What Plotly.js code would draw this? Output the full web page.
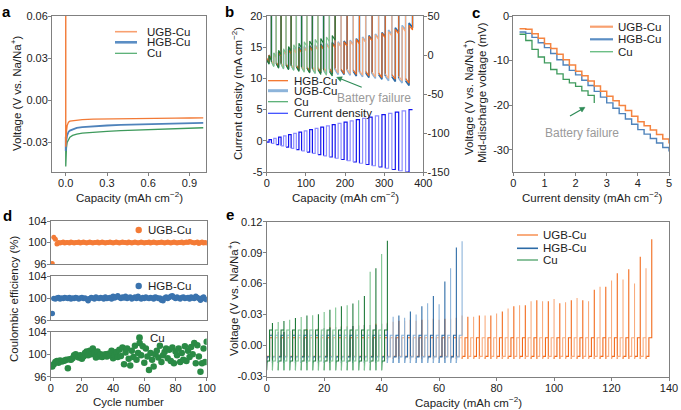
<!DOCTYPE html>
<html><head><meta charset="utf-8">
<script src="https://cdn.plot.ly/plotly-3.0.1.min.js"></script>
<style>html,body{margin:0;padding:0;background:#fff;}#chart{width:681px;height:410px;}</style>
</head><body><div id="chart"></div>
<script>
// ================= DATA =================
// Panel a: first plating curve
const aCapacity = [0, 0, 0.005, 0.01, 0.02, 0.03, 0.05, 0.08, 0.12, 0.2, 0.3, 0.4, 0.5, 0.6, 0.7, 0.8, 0.9, 1.0];
const aUgbVoltage = [0.07, -0.033, -0.022, -0.018, -0.0155, -0.0148, -0.0145, -0.0140, -0.0137, -0.0134, -0.0132, -0.0131, -0.0130, -0.0129, -0.0128, -0.0127, -0.0126, -0.0125];
const aHgbVoltage = [-0.026, -0.036, -0.028, -0.025, -0.0225, -0.0215, -0.0205, -0.0196, -0.0190, -0.0184, -0.0179, -0.0175, -0.0172, -0.0169, -0.0166, -0.0164, -0.0162, -0.0160];
const aCuVoltage = [-0.032, -0.047, -0.034, -0.030, -0.0275, -0.0262, -0.0250, -0.0240, -0.0233, -0.0226, -0.0221, -0.0216, -0.0212, -0.0208, -0.0204, -0.0201, -0.0198, -0.0195];
const aXTicks = [0, 0.3, 0.6, 0.9];
const aXTickText = ['0.0', '0.3', '0.6', '0.9'];
const aYTicks = [-0.03, 0, 0.03, 0.06];
const aYTickText = ['-0.03', '0.00', '0.03', '0.06'];

// Panel b: rate test (cycle boundaries in mAh cm-2, current per cycle, voltage envelopes in mV)
const bCycleEdges = [0, 12.0, 24.2, 36.7, 49.4, 62.4, 75.6, 89.1, 102.8, 116.7, 130.9, 145.3, 160.0, 174.9, 190.0, 205.4, 221.0, 236.9, 253.0, 269.3, 285.9, 302.8, 319.8, 337.2, 354.7, 372.5];
const bCurrent = [0.2, 0.4, 0.6, 0.8, 1.0, 1.2, 1.4, 1.6, 1.8, 2.0, 2.2, 2.4, 2.6, 2.8, 3.0, 3.2, 3.4, 3.6, 3.8, 4.0, 4.2, 4.4, 4.6, 4.8, 5.0];
const bOrangeUp = [0, 2, 4, 6, 7, 8, 9, 10, 11, 12, 13, 14, 15, 16, 17, 18, 20, 22, 24, 26, 28, 30, 33, 36, 38];
const bOrangeLow = [-4, -7, -9, -10, -11, -12, -13, -14, -15, -15, -16, -16, -17, -17, -18, -18, -19, -20, -21, -22, -23, -24, -25, -27, -30];
const bBlueUp = [0, 2, 4, 6, 8, 9, 10, 11, 12, 13, 14, 15, 16, 17, 18, 19, 21, 23, 25, 27, 29, 32, 35, 38, 41];
const bBlueLow = [-5, -8, -10, -11, -12, -13, -14, -15, -16, -17, -17, -18, -18, -19, -19, -20, -21, -22, -23, -24, -25, -27, -28, -30, -33];
const bCuUp = [-1, 3, 6, 8, 11, 13, 15, 17, 18, 20, 21, 23, 25];
const bCuLow = [-6, -9, -11, -12, -13, -14, -15, -16, -17, -18, -19, -20, -21];
const bRampMv = 6;       // decline of voltage within each half cycle
const bSpikeMv = 60;     // polarization spike at end of stripping (off scale)
const bXTicks = [0, 100, 200, 300, 400];
const bYTicks = [-5, 0, 5, 10, 15, 20];
const bYTickText = ['-5', '0', '5', '10', '15', '20'];
const bY2Ticks = [-150, -100, -50, 0, 50];
const bY2TickText = ['-150', '-100', '-50', '0', '50'];

// Panel c: mid-discharge voltage vs current density
const cCurrent = [0.2, 0.4, 0.6, 0.8, 1.0, 1.2, 1.4, 1.6, 1.8, 2.0, 2.2, 2.4, 2.6, 2.8, 3.0, 3.2, 3.4, 3.6, 3.8, 4.0, 4.2, 4.4, 4.6, 4.8, 5.0];
const cUgb = [-2.85, -3.0, -4.0, -5.0, -6.2, -7.3, -8.6, -9.8, -11.0, -12.4, -13.4, -14.6, -15.7, -16.9, -18.0, -19.0, -20.1, -21.2, -22.5, -23.7, -24.6, -25.6, -26.6, -27.6, -28.6];
const cHgb = [-3.6, -3.9, -4.8, -6.0, -7.1, -8.4, -9.8, -11.0, -12.2, -13.2, -14.4, -15.6, -16.9, -18.2, -19.5, -20.7, -21.9, -23.1, -24.3, -25.5, -26.5, -27.5, -28.5, -29.5, -30.4];
const cCu = [-4.1, -5.5, -7.5, -9.2, -10.5, -12.0, -13.0, -14.2, -15.0, -15.8, -16.8, -17.8, -19.5];
const cXTicks = [0, 1, 2, 3, 4, 5];
const cYTicks = [-30, -20, -10, 0];
const cYTickText = ['-30', '-20', '-10', '0'];

// Panel d: Coulombic efficiency (%)
const dUgb = [96.1, 101.0, 100.6, 99.7, 100.0, 99.9, 100.0, 100.1, 99.9, 100.0,
  100.0, 99.9, 100.1, 100.0, 99.9, 100.0, 100.0, 100.1, 99.9, 100.0,
  100.1, 100.0, 99.9, 100.0, 100.1, 100.0, 99.9, 100.0, 100.0, 100.1,
  99.9, 100.0, 100.1, 100.0, 99.9, 100.0, 100.0, 100.1, 100.0, 99.9,
  100.0, 100.1, 100.0, 99.9, 100.0, 100.1, 100.0, 100.0, 99.9, 100.1,
  100.0, 99.9, 100.0, 100.1, 100.0, 99.9, 100.0, 100.1, 100.0, 99.9,
  100.0, 100.0, 100.1, 99.9, 100.0, 100.1, 100.0, 99.9, 100.0, 100.0,
  100.1, 100.0, 99.9, 100.0, 100.1, 100.0, 99.9, 100.0, 100.1, 100.0,
  99.9, 100.0, 100.0, 100.1, 99.9, 100.0, 100.1, 100.0, 100.2, 100.1,
  100.0, 99.9, 100.0, 100.1, 99.8, 100.0, 100.1, 99.9, 100.0, 99.9];
const dHgb = [97.2, 99.9, 99.8, 100.0, 100.1, 99.8, 100.0, 99.9, 100.1, 100.0,
  99.9, 100.1, 99.8, 100.0, 99.9, 100.1, 100.0, 99.8, 100.0, 100.1,
  99.9, 100.0, 99.8, 99.5, 99.9, 100.1, 100.0, 99.8, 100.2, 100.0,
  99.9, 100.1, 100.0, 99.8, 100.2, 99.9, 100.0, 100.1, 99.8, 100.3,
  100.0, 100.2, 100.4, 100.1, 99.9, 100.2, 100.0, 100.3, 99.9, 100.1,
  100.2, 99.8, 100.0, 100.2, 99.9, 100.3, 100.0, 99.8, 100.1, 99.9,
  100.2, 100.0, 99.9, 100.1, 100.0, 99.8, 100.2, 100.1, 99.9, 100.0,
  99.6, 99.5, 100.0, 100.2, 99.9, 100.1, 100.3, 100.4, 100.1, 99.9,
  100.2, 100.0, 99.8, 100.1, 100.2, 99.9, 100.0, 100.1, 99.8, 100.2,
  100.0, 99.9, 100.3, 100.1, 99.9, 99.6, 100.0, 100.2, 99.8, 99.7];
const dCu = [97.8, 98.2, 98.6, 98.8, 98.5, 98.9, 98.7, 98.8, 98.9, 99.0,
  97.5, 99.1, 99.0, 99.3, 99.8, 100.0, 99.6, 99.4, 99.8, 99.2,
  99.6, 100.2, 100.5, 99.8, 100.6, 100.0, 101.0, 100.2, 99.4, 100.5,
  99.6, 100.0, 99.5, 99.8, 100.0, 99.6, 100.1, 99.8, 100.6, 99.3,
  99.8, 100.4, 99.5, 100.8, 99.7, 101.2, 98.2, 100.3, 101.0, 99.2,
  98.0, 100.6, 99.5, 101.5, 99.0, 100.2, 102.0, 99.8, 101.4, 98.5,
  101.0, 99.6, 97.2, 100.2, 99.0, 97.8, 100.0, 100.6, 99.4, 101.5,
  98.6, 99.8, 100.4, 101.0, 99.3, 100.8, 98.8, 101.2, 98.4, 100.5,
  99.8, 101.0, 98.6, 100.2, 99.0, 101.4, 98.8, 100.6, 99.5, 101.3,
  100.0, 102.0, 98.4, 101.6, 99.6, 96.9, 98.4, 101.0, 98.6, 102.2];
const dXTicks = [0, 20, 40, 60, 80, 100];
const dYTicks = [96, 100, 104];

// Panel e: long cycling, peak voltage at the end of each stripping step (V)
const eCycleCapacity = 2; // 1 mAh cm-2 plated + 1 mAh cm-2 stripped per cycle
const eUgbSpike = [0.012, 0.013, 0.013, 0.014, 0.015, 0.015, 0.016, 0.016, 0.017, 0.017,
  0.018, 0.018, 0.019, 0.019, 0.019, 0.020, 0.020, 0.020, 0.021, 0.021,
  0.022, 0.023, 0.024, 0.024, 0.025, 0.024, 0.025, 0.025, 0.026, 0.025, 0.026, 0.026, 0.027,
  0.029, 0.028, 0.028, 0.029, 0.029, 0.029, 0.031, 0.033, 0.036, 0.038, 0.039, 0.039, 0.043, 0.044,
  0.043, 0.043, 0.045, 0.041, 0.042, 0.044, 0.046, 0.044, 0.043, 0.054, 0.057, 0.057, 0.063, 0.070,
  0.064, 0.074, 0.060, 0.086, 0.075, 0.103];
const eHgbSpike = [0.012, 0.013, 0.013, 0.014, 0.014, 0.015, 0.015, 0.016, 0.016, 0.017,
  0.017, 0.018, 0.018, 0.018, 0.019, 0.019, 0.020, 0.020, 0.020, 0.021, 0.021,
  0.028, 0.029, 0.027, 0.033, 0.030, 0.038, 0.041, 0.048, 0.040, 0.062, 0.075, 0.095, 0.101];
const eCuSpike = [0.0218, 0.0228, 0.0238, 0.0251, 0.0267, 0.0277, 0.0290, 0.0293, 0.0303, 0.0326,
  0.0348, 0.0368, 0.0381, 0.0391, 0.0407, 0.0440, 0.0479, 0.0715, 0.0748, 0.0887, 0.1016];
// plateau levels: [stripping, plating, nucleation] (V)
const eUgbLevels = [0.0075, -0.0105, -0.013];
const eHgbLevels = [0.0099, -0.0110, -0.017];
const eCuLevels = [0.0150, -0.0150, -0.024];
const eXTicks = [0, 20, 40, 60, 80, 100, 120, 140];
const eYTicks = [-0.03, 0, 0.03, 0.06, 0.09, 0.12];
const eYTickText = ['-0.03', '0.00', '0.03', '0.06', '0.09', '0.12'];

// ================= STYLE =================
const FONT = 'Arial, "Liberation Sans", sans-serif';
const ORANGE_D = '#F26A1B', ORANGE_L = '#F9AC7E';
const BLUE_D = '#2C6BA6', BLUE_L = '#8DB4DA';
const GREEN_D = '#1F7A3A', GREEN_L = '#7CC48F';
const CUR_D = '#1414EE', CUR_L = '#8C8CFF';
const px = x => x / 681;
const py = y => 1 - y / 410;

// ================= TRACE BUILDERS =================
function bVoltage(low, up, xa, ya, dark, light, width) {
  const t = [{x: [], y: []}, {x: [], y: []}];
  for (let k = 0; k < up.length; k++) {
    const c0 = bCycleEdges[k], c1 = bCycleEdges[k + 1], cm = (c0 + c1) / 2;
    const tr = t[k % 2];
    tr.x.push(c0, cm, cm, c1, c1);
    tr.y.push(low[k], low[k] - bRampMv, up[k], up[k] - bRampMv, bSpikeMv);
    if (k < up.length - 1) { tr.x.push(c1); tr.y.push(low[k + 1]); }
    tr.x.push(null); tr.y.push(null);
  }
  return t.map((d, i) => ({type: 'scatter', mode: 'lines', x: d.x, y: d.y, xaxis: xa, yaxis: ya,
    line: {color: i === 0 ? dark : light, width: width}}));
}
function bCurrentTraces() {
  const t = [{x: [0], y: [0]}, {x: [], y: []}];
  for (let k = 0; k < bCurrent.length; k++) {
    const c0 = bCycleEdges[k], c1 = bCycleEdges[k + 1], cm = (c0 + c1) / 2, j = bCurrent[k];
    const tr = t[k % 2];
    tr.x.push(c0, cm, cm, c1, c1);
    tr.y.push(-j, -j, j, j, k < bCurrent.length - 1 ? -bCurrent[k + 1] : j);
    tr.x.push(null); tr.y.push(null);
  }
  return t.map((d, i) => ({type: 'scatter', mode: 'lines', x: d.x, y: d.y, xaxis: 'x2', yaxis: 'y2',
    line: {color: i === 0 ? CUR_D : CUR_L, width: 1.2}}));
}
function eCycling(spikes, lv, dark, light, width) {
  const t = [{x: [], y: []}, {x: [], y: []}];
  for (let k = 0; k < spikes.length; k++) {
    const c0 = k * eCycleCapacity, cm = c0 + eCycleCapacity / 2, c1 = c0 + eCycleCapacity;
    const tr = t[k % 2];
    tr.x.push(c0, c0 + 0.15, cm, cm, c1, c1);
    tr.y.push(lv[2], lv[1], lv[1], lv[0], lv[0], spikes[k]);
    if (k < spikes.length - 1) { tr.x.push(c1); tr.y.push(lv[2]); }
    tr.x.push(null); tr.y.push(null);
  }
  return t.map((d, i) => ({type: 'scatter', mode: 'lines', x: d.x, y: d.y, xaxis: 'x7', yaxis: 'y8',
    line: {color: i === 0 ? dark : light, width: width}}));
}
const dCycles = dUgb.map((_, i) => i + 1);

const traces = [
  // a
  {type: 'scatter', mode: 'lines', x: aCapacity, y: aCuVoltage, xaxis: 'x', yaxis: 'y', line: {color: '#3E9A5C', width: 1.3}},
  {type: 'scatter', mode: 'lines', x: aCapacity, y: aHgbVoltage, xaxis: 'x', yaxis: 'y', line: {color: '#4F83BB', width: 1.8}},
  {type: 'scatter', mode: 'lines', x: aCapacity, y: aUgbVoltage, xaxis: 'x', yaxis: 'y', line: {color: '#F27A36', width: 1.4}},
  // b
  ...bCurrentTraces(),
  ...bVoltage(bBlueLow, bBlueUp, 'x2', 'y3', BLUE_D, BLUE_L, 1.6),
  ...bVoltage(bOrangeLow, bOrangeUp, 'x2', 'y3', ORANGE_D, ORANGE_L, 1.1),
  ...bVoltage(bCuLow, bCuUp, 'x2', 'y3', GREEN_D, GREEN_L, 1.1),
  // c
  {type: 'scatter', mode: 'lines', x: cCurrent, y: cCu, xaxis: 'x3', yaxis: 'y4', line: {color: '#3E9A5C', width: 1.3, shape: 'hv'}},
  {type: 'scatter', mode: 'lines', x: cCurrent, y: cHgb, xaxis: 'x3', yaxis: 'y4', line: {color: '#4F83BB', width: 1.4, shape: 'hv'}},
  {type: 'scatter', mode: 'lines', x: cCurrent, y: cUgb, xaxis: 'x3', yaxis: 'y4', line: {color: '#F58440', width: 1.5, shape: 'hv'}},
  // d
  {type: 'scatter', mode: 'markers', x: dCycles, y: dUgb, xaxis: 'x4', yaxis: 'y5', marker: {color: '#F47B36', size: 5}},
  {type: 'scatter', mode: 'markers', x: dCycles, y: dHgb, xaxis: 'x5', yaxis: 'y6', marker: {color: '#3A73AE', size: 5.5}},
  {type: 'scatter', mode: 'markers', x: dCycles, y: dCu, xaxis: 'x6', yaxis: 'y7', marker: {color: '#2A8A45', size: 6.5}},
  // e
  ...eCycling(eUgbSpike, eUgbLevels, ORANGE_D, ORANGE_L, 1.1),
  ...eCycling(eHgbSpike, eHgbLevels, BLUE_D, BLUE_L, 1.1),
  ...eCycling(eCuSpike, eCuLevels, GREEN_D, GREEN_L, 1.1)
].map(t => Object.assign({showlegend: false, hoverinfo: 'skip'}, t));

// ================= LAYOUT =================
const base = {showgrid: false, zeroline: false, showline: true, mirror: true, linecolor: '#808080', linewidth: 1,
  ticks: 'outside', ticklen: 3, tickcolor: '#808080', ticklabelstandoff: -2, tickfont: {family: FONT, size: 11, color: '#222'}};
const ax = o => Object.assign({}, base, o);
const yTop = py(16), yBot = py(172);

function ann(text, x, y, o) {
  return Object.assign({text: text, x: px(x), y: py(y), xref: 'paper', yref: 'paper', showarrow: false,
    xanchor: 'center', yanchor: 'middle', font: {family: FONT, size: 12, color: '#222'}}, o || {});
}
function legText(text, x, y) { return ann(text, x, y, {xanchor: 'left', font: {family: FONT, size: 11.5, color: '#222'}}); }
function legLine(x0, x1, y, color, width) {
  return {type: 'line', xref: 'paper', yref: 'paper', x0: px(x0), x1: px(x1), y0: py(y), y1: py(y), line: {color: color, width: width}};
}
function legDot(cx, cy, r, color) {
  return {type: 'circle', xref: 'paper', yref: 'paper', x0: px(cx - r), x1: px(cx + r), y0: py(cy + r), y1: py(cy - r), fillcolor: color, line: {width: 0}};
}
function arrow(hx, hy, tx, ty) {
  return {type: 'path', xref: 'paper', yref: 'paper', line: {color: '#2E8B57', width: 1.2},
    path: 'M' + px(tx) + ',' + py(ty) + ' L' + px(hx) + ',' + py(hy)};
}
function arrowHead(hx, hy, tx, ty) {
  const dx = hx - tx, dy = hy - ty, L = Math.hypot(dx, dy), ux = dx / L, uy = dy / L, s = 5, w = 2.6;
  const bx = hx - ux * s, by = hy - uy * s;
  const p1 = [bx - uy * w, by + ux * w], p2 = [bx + uy * w, by - ux * w];
  return {type: 'path', xref: 'paper', yref: 'paper', fillcolor: '#2E8B57', line: {color: '#2E8B57', width: 0.5},
    path: 'M' + px(hx) + ',' + py(hy) + ' L' + px(p1[0]) + ',' + py(p1[1]) + ' L' + px(p2[0]) + ',' + py(p2[1]) + ' Z'};
}
const bold = {family: FONT, size: 15, color: '#000'};
const titleFont = {family: FONT, size: 11.5, color: '#222'};

const layout = {
  width: 681, height: 410, margin: {l: 0, r: 0, t: 0, b: 0}, paper_bgcolor: '#fff', plot_bgcolor: '#fff',
  showlegend: false, font: {family: FONT, size: 11, color: '#222'},
  xaxis: ax({domain: [px(52), px(206)], range: [-0.1, 1.02], tickvals: aXTicks, ticktext: aXTickText, anchor: 'y'}),
  yaxis: ax({domain: [yBot, yTop], range: [-0.051, 0.06], tickvals: aYTicks, ticktext: aYTickText, anchor: 'x'}),
  xaxis2: ax({domain: [px(266.7), px(423.3)], range: [0, 400], tickvals: bXTicks, anchor: 'y2'}),
  yaxis2: ax({domain: [yBot, yTop], range: [-5, 20], tickvals: bYTicks, ticktext: bYTickText, anchor: 'x2'}),
  yaxis3: ax({overlaying: 'y2', side: 'right', anchor: 'x2', range: [-150, 50], tickvals: bY2Ticks, ticktext: bY2TickText, showline: false, mirror: false}),
  xaxis3: ax({domain: [px(513.3), px(669)], range: [0, 5], tickvals: cXTicks, anchor: 'y4'}),
  yaxis4: ax({domain: [yBot, yTop], range: [-35, 0], tickvals: cYTicks, ticktext: cYTickText, anchor: 'x3'}),
  xaxis4: ax({domain: [px(50.7), px(206.7)], range: [0, 100], anchor: 'y5', showticklabels: false, ticks: ''}),
  yaxis5: ax({domain: [py(264), py(221)], range: [96, 104], tickvals: dYTicks, anchor: 'x4'}),
  xaxis5: ax({domain: [px(50.7), px(206.7)], range: [0, 100], anchor: 'y6', showticklabels: false, ticks: ''}),
  yaxis6: ax({domain: [py(320), py(276)], range: [96, 104], tickvals: dYTicks, anchor: 'x5'}),
  xaxis6: ax({domain: [px(50.7), px(206.7)], range: [0, 100], anchor: 'y7', tickvals: dXTicks}),
  yaxis7: ax({domain: [py(376.7), py(331.7)], range: [96, 104], tickvals: dYTicks, anchor: 'x6'}),
  xaxis7: ax({domain: [px(266.7), px(669)], range: [0, 140], tickvals: eXTicks, anchor: 'y8'}),
  yaxis8: ax({domain: [py(376.5), py(221.7)], range: [-0.03, 0.12], tickvals: eYTicks, ticktext: eYTickText, anchor: 'x7'}),
  shapes: [
    // a legend
    legLine(115, 137, 31.7, '#F8A070', 1.6), legLine(115, 137, 42.3, '#5B8EC4', 2.6), legLine(115, 137, 53.3, '#4DAA6B', 1.2),
    // b legend
    legLine(268, 288, 80.7, ORANGE_D, 1.2), legLine(268, 288, 90.7, BLUE_L, 3), legLine(268, 288, 101.7, '#4DAA6B', 1.2), legLine(268, 288, 113.3, '#3344FF', 1.2),
    // c legend
    legLine(590, 613, 26.7, '#F8A070', 2.2), legLine(590, 613, 39.3, '#5B8EC4', 2.2), legLine(590, 613, 51.7, '#6DBF86', 1.4),
    // d legend
    legDot(138.7, 230, 3.2, '#F47B36'), legDot(138.7, 286, 3.2, '#3A73AE'), legDot(139.5, 337.7, 3.4, '#2A8A45'),
    // e legend
    legLine(517, 538, 235, ORANGE_L, 2), legLine(517, 538, 248.3, BLUE_D, 1.6), legLine(517, 538, 260, '#3E9A5C', 1.2),
    // battery failure arrows
    arrow(338, 77.8, 361.7, 87.3), arrowHead(336.7, 77.3, 361.7, 87.3),
    arrow(584, 107.9, 570, 116), arrowHead(585, 107.3, 570, 116)
  ],
  annotations: [
    // panel letters
    ann('<b>a</b>', 6, 11, {font: bold}), ann('<b>b</b>', 229, 11, {font: bold}), ann('<b>c</b>', 476, 12, {font: bold}),
    ann('<b>d</b>', 7, 215, {font: bold}), ann('<b>e</b>', 230, 214, {font: bold}),
    // axis titles
    ann('Voltage (V vs. Na/Na<sup>+</sup>)', 16, 94, {textangle: -90, font: titleFont}),
    ann('Capacity (mAh cm<sup>−2</sup>)', 129, 197, {font: titleFont}),
    ann('Current density (mA cm<sup>−2</sup>)', 237, 94, {textangle: -90, font: titleFont}),
    ann('Capacity (mAh cm<sup>−2</sup>)', 345, 197, {font: titleFont}),
    ann('Voltage (V vs. Na/Na<sup>+</sup>)', 468, 98, {textangle: -90, font: titleFont}),
    ann('Mid-discharge voltage (mV)', 482, 92, {textangle: -90, font: titleFont}),
    ann('Current density (mAh cm<sup>−2</sup>)', 592, 197, {font: titleFont}),
    ann('Coulombic efficiency (%)', 14, 299, {textangle: -90, font: titleFont}),
    ann('Cycle number', 128, 402, {font: titleFont}),
    ann('Voltage (V vs. Na/Na<sup>+</sup>)', 233, 299, {textangle: -90, font: titleFont}),
    ann('Capacity (mAh cm<sup>−2</sup>)', 468, 402, {font: titleFont}),
    // legends text
    legText('UGB-Cu', 145, 31.7), legText('HGB-Cu', 145, 42.3), legText('Cu', 145, 53.3),
    legText('HGB-Cu', 292, 80.7), legText('UGB-Cu', 292, 90.7), legText('Cu', 292, 101.7), legText('Current density', 292, 113.3),
    legText('UGB-Cu', 616, 26.7), legText('HGB-Cu', 616, 39.3), legText('Cu', 616, 51.7),
    legText('UGB-Cu', 146, 230), legText('HGB-Cu', 146, 286), legText('Cu', 148, 337.7),
    legText('UGB-Cu', 541, 235), legText('HGB-Cu', 541, 248.3), legText('Cu', 541, 260),
    // battery failure notes
    ann('Battery failure', 374, 97.7, {font: {family: FONT, size: 12, color: '#9a9a9a'}}),
    ann('Battery failure', 581.7, 133.3, {font: {family: FONT, size: 12, color: '#9a9a9a'}})
  ]
};

Plotly.newPlot('chart', traces, layout, {staticPlot: true, displayModeBar: false});
</script></body></html>
